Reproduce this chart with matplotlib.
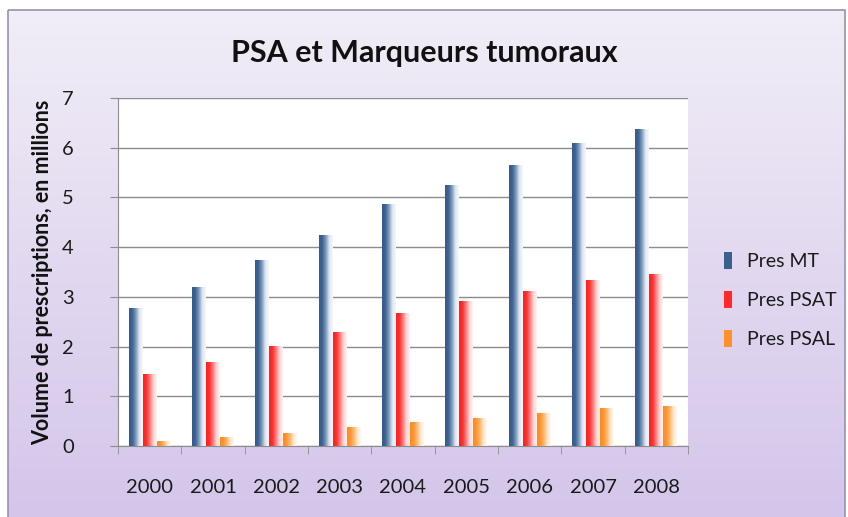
import numpy as np
import matplotlib
matplotlib.use("Agg")
import matplotlib.pyplot as plt
from matplotlib.colors import LinearSegmentedColormap
from matplotlib.patches import Rectangle

years = ["2000", "2001", "2002", "2003", "2004", "2005", "2006", "2007", "2008"]
pres_mt = [2.77, 3.19, 3.75, 4.25, 4.86, 5.26, 5.66, 6.09, 6.38]
pres_psat = [1.44, 1.68, 2.01, 2.29, 2.67, 2.91, 3.12, 3.33, 3.45]
pres_psal = [0.10, 0.18, 0.26, 0.38, 0.49, 0.57, 0.66, 0.76, 0.81]
series_names = ["Pres MT", "Pres PSAT", "Pres PSAL"]
title = "PSA et Marqueurs tumoraux"
ylabel = "Volume de prescriptions, en millions"

FONT = ["Lato", "DejaVu Sans"]
plt.rcParams["font.family"] = FONT

W, H = 848, 517
fig = plt.figure(figsize=(W / 100, H / 100), dpi=100)
fig.patch.set_facecolor("white")

# chart frame with vertical gradient
bg = fig.add_axes([0, 0, 1, 1], zorder=-10)
bg.set_xlim(0, W)
bg.set_ylim(H, 0)
bg.axis("off")
grad = np.linspace(0, 1, 256).reshape(-1, 1)
bg_cmap = LinearSegmentedColormap.from_list("bg", ["#f1eef7", "#e2d9f0", "#d4c5ea"])
fx0, fy0, fx1, fy1 = 8, 10, 845, 520
bg.imshow(grad, cmap=bg_cmap, aspect="auto", extent=[fx0, fx1, fy1, fy0], zorder=0)
bg.add_patch(Rectangle((fx0, fy0), fx1 - fx0, fy1 - fy0, fill=False,
                       edgecolor="#9a90b0", lw=1.2, zorder=1))

ax = fig.add_axes([118 / W, 1 - 446 / H, (688 - 118) / W, (446 - 98) / H])
ax.set_facecolor("white")

x = np.arange(len(years))
bw = 0.22
cmaps = [
    LinearSegmentedColormap.from_list("mt", ["#34598a", "#3f6594", "#7f9bbd", "#dfe7f1", "#f6f8fb"]),
    LinearSegmentedColormap.from_list("psat", ["#ff1f1f", "#ff3030", "#ff7a7a", "#ffd3d3", "#fff4f4"]),
    LinearSegmentedColormap.from_list("psal", ["#ff8a1c", "#ff9630", "#ffb86e", "#ffe6cc", "#fff8f0"]),
]
series = [pres_mt, pres_psat, pres_psal]
hgrad = np.linspace(0, 1, 64).reshape(1, -1)
for i, (vals, cm, name) in enumerate(zip(series, cmaps, series_names)):
    bars = ax.bar(x + (i - 1) * bw, vals, width=bw, facecolor="none",
                  edgecolor="none", zorder=3)
    for b in bars:
        x0, y0 = b.get_x(), b.get_y()
        im = ax.imshow(hgrad, cmap=cm, aspect="auto",
                       extent=[x0, x0 + b.get_width(), y0, y0 + b.get_height()],
                       zorder=3)
        im.set_clip_path(b)
    ax.bar([0], [0], color=cm(0.15), label=name)

ax.set_xlim(-0.5, len(years) - 0.5)
ax.set_ylim(0, 7)
ax.set_yticks(range(0, 8))
ax.yaxis.grid(True, color="#8c8c8c", lw=1.0)
ax.set_axisbelow(True)
for s in ["top", "right"]:
    ax.spines[s].set_visible(False)
ax.spines["left"].set_color("#8c8c8c")
ax.spines["bottom"].set_color("#8c8c8c")
ax.tick_params(axis="y", length=6, color="#8c8c8c", labelsize=14.5,
               labelcolor="#1a1a1a", pad=30)
ax.set_xticks(x)
ax.set_xticklabels(years)
ax.set_xticks(np.arange(-0.5, len(years)), minor=True)
ax.tick_params(axis="x", which="major", length=0, labelsize=14.5,
               labelcolor="#1a1a1a", pad=24)
ax.tick_params(axis="x", which="minor", length=6, color="#8c8c8c")
for lab in ax.get_yticklabels():
    lab.set_horizontalalignment("center")

ax.set_ylabel(ylabel, fontsize=15.5, fontweight="bold", color="#111111")
ax.yaxis.set_label_coords(-0.113, 0.5)

fig.text(0.5, 1 - 53 / H, title, ha="center", va="center",
         fontsize=22, fontweight="bold", color="#111111")

leg = fig.legend(loc="center left", bbox_to_anchor=(706 / W, 1 - 300 / H),
                 frameon=False, fontsize=14, handlelength=0.45, handleheight=1.0,
                 labelspacing=1.05, handletextpad=0.75)
for t in leg.get_texts():
    t.set_color("#1a1a1a")

fig.savefig("out.png", dpi=100)
